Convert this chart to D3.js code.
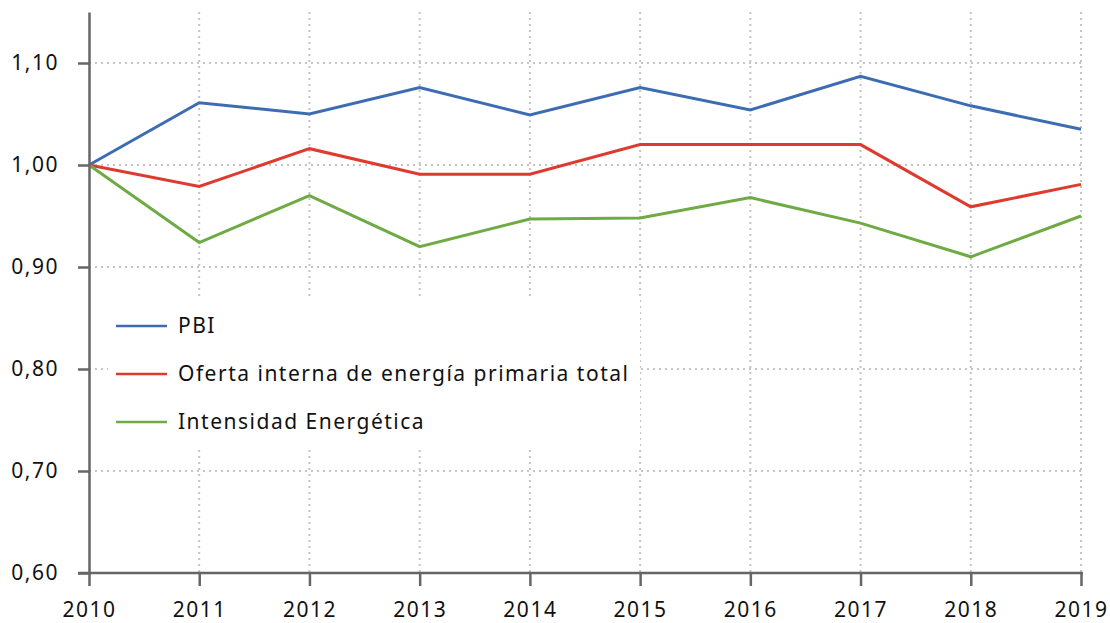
<!DOCTYPE html>
<html lang="es">
    <head>
        <meta charset="utf-8">
        <title>PBI, oferta de energía e intensidad energética</title>
        <script type="text/javascript" src="https://d3js.org/d3.v7.min.js"></script>
        <style type="text/css">
            body { margin: 0; background: #fff; }
            text { font-family: "Noto Sans", "Open Sans", sans-serif; fill: #111; letter-spacing: 1.5px; }
            .axis path, .axis line { stroke: #666; stroke-width: 2.5px; }
            .grid line { stroke: #c4c4c4; stroke-width: 2px; stroke-dasharray: 2,4; }
        </style>
    </head>
    <body>
        <script type="text/javascript">

            // Datos (indice base 2010 = 1)
            var years = [2010, 2011, 2012, 2013, 2014, 2015, 2016, 2017, 2018, 2019];
            var pbi = [1.00, 1.061, 1.050, 1.076, 1.049, 1.076, 1.054, 1.087, 1.058, 1.035];
            var oferta = [1.00, 0.979, 1.016, 0.991, 0.991, 1.020, 1.020, 1.020, 0.959, 0.981];
            var intensidad = [1.00, 0.924, 0.970, 0.920, 0.947, 0.948, 0.968, 0.943, 0.910, 0.950];
            var yTicks = [0.60, 0.70, 0.80, 0.90, 1.00, 1.10];
            var seriesNames = ["PBI", "Oferta interna de energía primaria total", "Intensidad Energética"];
            var colors = ["#3d6cb3", "#df3a2f", "#6fab45"];

            var w = 1110, h = 623;
            var mLeft = 89, mRight = 1081, mTop = 12, mBottom = 573;

            var svg = d3.select("body").append("svg")
                .attr("width", w)
                .attr("height", h);

            var xScale = d3.scaleLinear()
                .domain([2010, 2019])
                .range([mLeft, mRight]);

            var yScale = d3.scaleLinear()
                .domain([0.6, 1.15])
                .range([mBottom, mTop]);

            var fmt = function(d) { return d3.format(".2f")(d).replace(".", ","); };

            // Rejilla
            svg.append("g")
                .attr("class", "grid")
                .selectAll("line")
                .data(years.slice(1))
                .enter().append("line")
                .attr("x1", function(d) { return xScale(d); })
                .attr("x2", function(d) { return xScale(d); })
                .attr("y1", mTop)
                .attr("y2", mBottom);

            svg.append("g")
                .attr("class", "grid")
                .selectAll("line")
                .data(yTicks.slice(1))
                .enter().append("line")
                .attr("x1", mLeft)
                .attr("x2", mRight)
                .attr("y1", function(d) { return yScale(d); })
                .attr("y2", function(d) { return yScale(d); });

            // Lineas
            var line = d3.line()
                .x(function(d, i) { return xScale(years[i]); })
                .y(function(d) { return yScale(d); });

            var data = [pbi, oferta, intensidad];

            svg.selectAll("path.serie")
                .data(data)
                .enter().append("path")
                .attr("class", "serie")
                .attr("fill", "none")
                .attr("stroke", function(d, i) { return colors[i]; })
                .attr("stroke-width", 3)
                .attr("d", line);

            // Ejes
            var xAxis = d3.axisBottom(xScale)
                .tickValues(years)
                .tickFormat(d3.format("d"))
                .tickSize(13)
                .tickSizeOuter(0)
                .tickPadding(16);

            var yAxis = d3.axisLeft(yScale)
                .tickValues(yTicks)
                .tickFormat(fmt)
                .tickSize(11)
                .tickSizeOuter(0)
                .tickPadding(19);

            var gx = svg.append("g")
                .attr("class", "x axis")
                .attr("transform", "translate(0," + mBottom + ")")
                .call(xAxis);
            gx.select(".domain").attr("d", "M" + (mLeft - 11) + ",0H" + (mRight + 2));

            var gy = svg.append("g")
                .attr("class", "y axis")
                .attr("transform", "translate(" + mLeft + ",0)")
                .call(yAxis);

            svg.selectAll(".axis text")
                .style("font-size", "21px")
                .attr("fill", "#111");

            // Leyenda
            var legend = svg.append("g");
            legend.append("rect")
                .attr("x", 108).attr("y", 300)
                .attr("width", 532).attr("height", 147)
                .attr("fill", "#fff");

            var items = legend.selectAll("g.item")
                .data(seriesNames)
                .enter().append("g")
                .attr("class", "item")
                .attr("transform", function(d, i) { return "translate(116," + (326 + i * 48) + ")"; });

            items.append("line")
                .attr("x1", 0).attr("x2", 51)
                .attr("stroke", function(d, i) { return colors[i]; })
                .attr("stroke-width", 2.5);

            items.append("text")
                .attr("x", 62)
                .attr("dy", "0.35em")
                .style("font-size", "21px")
                .text(function(d) { return d; });

        </script>
    </body>
</html>
